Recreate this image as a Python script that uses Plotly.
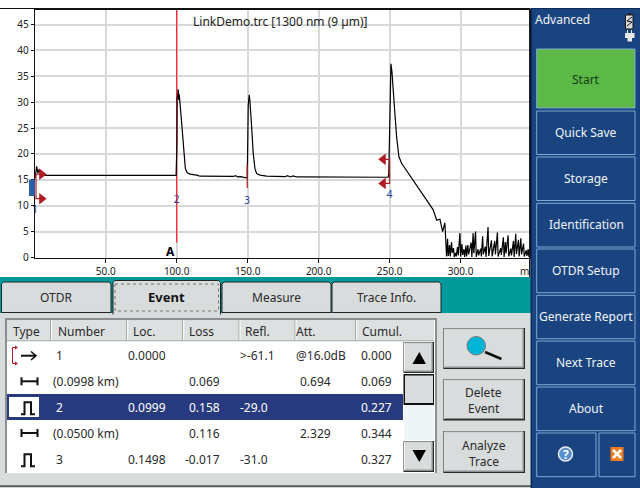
import plotly.graph_objects as go

W = 640
H = 496
FONT = "Noto Sans"

# trace: distance (m), level (dB)
TRACE_X = [0.2, 1.4, 2.2, 3.0, 4.0, 5.0, 99.6, 100.2, 100.3, 100.6, 101.1, 101.5, 101.8, 103.5, 105.1, 106.1,
           107.3, 109.4, 114.1, 116.4, 139.9, 141.5, 143.0, 145.0, 149.7, 149.8, 150.4, 151.1, 151.6, 152.8,
           153.9, 155.1, 156.3, 158.7, 163.4, 176.4, 178.0, 180.0, 182.0, 184.6, 249.0, 249.4, 250.0, 250.9,
           251.6, 252.6, 253.7, 254.9, 256.5, 258.4, 263.1, 267.8, 272.5, 277.2, 280.7, 283.1, 285.4, 287.3,
           288.9, 290.1]
TRACE_Y = [15.3, 17.6, 16.3, 17.0, 16.2, 15.85, 15.85, 22.4, 30.9, 30.9, 32.5, 30.4, 31.5, 26.0, 19.5, 17.2,
           16.4, 16.1, 15.9, 15.7, 15.65, 15.8, 15.55, 15.6, 15.35, 20.5, 29.4, 31.4, 30.1, 25.2,
           20.1, 17.2, 16.2, 15.9, 15.7, 15.6, 15.8, 15.55, 15.75, 15.55, 15.5, 16.25, 25.6, 37.4,
           35.9, 31.0, 27.8, 23.3, 19.5, 18.2, 16.25, 14.3, 12.4, 10.5, 9.2, 7.2, 7.4, 5.0,
           6.7, 0.2]
NOISE_X = [290.8, 291.3, 292.2, 292.7, 293.6, 294.1, 295.0, 295.5, 296.4, 296.9, 297.8, 298.3, 299.5, 300.0, 300.9,
           301.4, 302.3, 302.8, 303.7, 304.2, 305.1, 305.6, 307.4, 307.9, 308.8, 309.3, 310.5, 311.0, 312.2, 312.7,
           314.1, 314.6, 315.5, 316.0, 317.4, 317.9, 319.3, 319.8, 321.7, 322.2, 324.0, 324.5, 325.9, 326.4, 328.2,
           328.7, 330.1, 330.6, 331.5, 332.0, 333.4, 333.9, 335.3, 335.8, 337.2, 337.7, 338.8, 339.3, 340.7, 341.2,
           342.4, 342.9, 344.3, 344.8, 346.2, 346.7, 347.6, 348.1]
NOISE_Y = [3.6, 0.3, 2.4, 0.2, 3.0, 0.9, 1.8, 0.1, 0.9, 0.2, 2.0, 0.4, 4.7, 0.2, 2.6,
           0.5, 1.6, 0.1, 2.3, 0.2, 2.4, 0.6, 2.9, 0.1, 4.7, 0.8, 5.0, 0.1, 1.6, 0.4,
           1.7, 0.2, 4.1, 0.6, 2.1, 0.1, 5.9, 0.3, 3.3, 0.2, 3.2, 0.6, 4.8, 0.2, 1.8,
           0.5, 3.9, 0.1, 3.0, 0.8, 4.3, 0.2, 1.7, 0.4, 3.2, 0.1, 4.6, 0.7, 3.4, 0.2,
           3.7, 0.6, 2.7, 0.2, 1.4, 0.3, 1.6, 0.1]

X_TICKS = [50, 100, 150, 200, 250, 300]
X_LABELS = ["50.0", "100.0", "150.0", "200.0", "250.0", "300.0"]
Y_TICKS = [0, 5, 10, 15, 20, 25, 30, 35, 40, 45]

MARKER_R_X = [4.9, 4.9]
MARKER_R_Y = [16.1, 11.35]
MARKER_L_X = [245.5, 245.5]
MARKER_L_Y = [18.95, 14.3]
EVENT_X = [0.3, 100.0, 149.6, 250.0]
EVENT_Y = [9.0, 11.1, 10.8, 11.9]
EVENT_NAMES = ["1", "2", "3", "4"]

TITLE = "LinkDemo.trc [1300 nm (9 µm)]"

TABS = ["OTDR", "Event", "Measure", "Trace Info."]
HEADERS = ["Type", "Number", "Loc.", "Loss", "Refl.", "Att.", "Cumul."]
COL_NUMBER = ["1", "(0.0998 km)", "2", "(0.0500 km)", "3"]
COL_LOC = ["0.0000", "", "0.0999", "", "0.1498"]
COL_LOSS = ["", "0.069", "0.158", "0.116", "-0.017"]
COL_REFL = [">-61.1", "", "-29.0", "", "-31.0"]
COL_ATT = ["@16.0dB", "0.694", "", "2.329", ""]
COL_CUMUL = ["0.000", "0.069", "0.227", "0.344", "0.327"]
SIDE_BUTTONS = ["Quick Save", "Storage", "Identification", "OTDR Setup", "Generate Report", "Next Trace", "About"]

RED = "#b01c24"
GRID = "#d5d9d9"
PANEL = "#1a4480"
GREY = "#d8dcdc"
NAVY = "#273a80"


def px(x):
    return x / W


def py(y):
    return 1 - y / H


shapes = []
notes = []


def rect(x0, y0, x1, y1, fill, line=None, width=1, dash=None):
    shapes.append(dict(type="rect", xref="paper", yref="paper", x0=px(x0), x1=px(x1), y0=py(y0), y1=py(y1),
                       fillcolor=fill, line=dict(color=line or "rgba(0,0,0,0)", width=width if line else 0, dash=dash),
                       layer="above"))


def seg(x0, y0, x1, y1, color, width=1):
    shapes.append(dict(type="line", xref="paper", yref="paper", x0=px(x0), x1=px(x1), y0=py(y0), y1=py(y1),
                       line=dict(color=color, width=width), layer="above"))


def poly(points, fill=None, line=None, width=1, close=False):
    d = "M" + " L".join(f"{px(a):.5f},{py(b):.5f}" for a, b in points) + (" Z" if close else "")
    shapes.append(dict(type="path", xref="paper", yref="paper", path=d, fillcolor=fill or "rgba(0,0,0,0)",
                       line=dict(color=line or "rgba(0,0,0,0)", width=width if line else 0), layer="above"))


def text(x, y, s, size=12, color="#2a2a2a", anchor="left", bold=False):
    notes.append(dict(xref="paper", yref="paper", x=px(x), y=py(y), text=f"<b>{s}</b>" if bold else s, showarrow=False,
                      xanchor=anchor, yanchor="middle", borderpad=0, borderwidth=0,
                      font=dict(family=FONT, size=size, color=color)))


def raised(x0, y0, x1, y1):
    rect(x0, y0, x1, y1, "#2a2a2a")
    rect(x0 + 0.5, y0 + 0.5, x1 - 1.5, y1 - 1.5, "#f4f6f6")
    rect(x0 + 1.5, y0 + 1.5, x1 - 1.5, y1 - 1.5, "#8d9191")
    rect(x0 + 1.5, y0 + 1.5, x1 - 2.5, y1 - 2.5, GREY)


# frame above the plot
seg(0, 8.5, 530, 8.5, "#111111", 1)
seg(529.8, 8.5, 529.8, 277, "#111111", 1.5)
rect(29, 179.5, 35, 196, "#2a5fa8")

# teal band, tabs and the grey body
rect(0, 277, 531, 314, "#009a9a")
rect(0, 313, 531, 486, GREY)
seg(0, 486.3, 531, 486.3, "#555a5a", 2)
TAB_X = [(1.5, 111), (113, 220.5), (222, 331), (332, 441)]
for i, (x0, x1) in enumerate(TAB_X):
    top = 280.5 if i == 1 else 282
    bottom = 314.5 if i == 1 else 312.5
    poly([(x0, bottom), (x0, top + 2), (x0 + 2, top), (x1 - 2, top), (x1, top + 2), (x1, bottom)],
         fill=GREY, line="#222222", width=1, close=i != 1)
    text((x0 + x1) / 2, 297, TABS[i], size=13 if i == 1 else 12, color="#111111" if i == 1 else "#2a2a2a",
         anchor="center", bold=i == 1)
rect(115, 284, 218.5, 311, "rgba(0,0,0,0)", "#777777", 1, "dot")

# event table
rect(5, 318, 437, 473, "#8a8e8e")
rect(7, 320, 435, 473, "#ffffff")
rect(7, 320, 434, 341, "#dde0e0")
HEADER_X = [13, 57.5, 133, 189, 245, 296, 362]
for hx, name in zip(HEADER_X, HEADERS):
    text(hx, 331.5, name, size=12)
for sx in [50.7, 126.7, 182.7, 239, 295, 355.7]:
    seg(sx, 320, sx, 341, "#9a9e9e", 1)
    seg(sx + 1, 320, sx + 1, 341, "#ffffff", 1)
seg(7, 340.8, 434, 340.8, "#a8acac", 1)

rect(7, 394, 403, 420, NAVY)
rect(9, 397, 39, 417, "#ffffff")

ROW_Y = [355.7, 381.7, 407.3, 433.3, 459.3]
for i, ry in enumerate(ROW_Y):
    color = "#ffffff" if i == 2 else "#2a2a2a"
    num_x = 52.5 if COL_NUMBER[i].startswith("(") else 56
    text(num_x, ry, COL_NUMBER[i], color=color)
    if COL_LOC[i]:
        text(128, ry, COL_LOC[i], color=color)
    if COL_LOSS[i]:
        text(219.5, ry, COL_LOSS[i], color=color, anchor="right")
    if COL_REFL[i]:
        text(240, ry, COL_REFL[i], color=color)
    if COL_ATT[i]:
        text(331 if COL_ATT[i] != "@16.0dB" else 346, ry, COL_ATT[i], color=color, anchor="right")
    text(392, ry, COL_CUMUL[i], color=color, anchor="right")

# type icons
poly([(16.7, 347.5), (12.5, 347.5), (12.5, 363.5), (16.7, 363.5)], line=RED, width=1)
poly([(15, 345.5), (18, 347.5), (15, 349.5)], fill=RED, close=True)
poly([(15, 361.5), (18, 363.5), (15, 365.5)], fill=RED, close=True)
seg(21, 355.7, 35, 355.7, "#111111", 2)
poly([(31, 351.5), (36, 355.7), (31, 360)], line="#111111", width=1.6)
for ry in [381.3, 433]:
    seg(21.5, ry, 37.5, ry, "#111111", 2)
    seg(21.5, ry - 4, 21.5, ry + 4, "#111111", 2)
    seg(37.5, ry - 4, 37.5, ry + 4, "#111111", 2)
for base in [414.3, 466.3]:
    poly([(21, base), (24.5, base), (24.5, base - 12), (31, base - 12), (31, base), (35, base)],
         line="#111111", width=2)

# scroll bar
raised(403.5, 342, 434, 373)
poly([(412.5, 364), (419.3, 352), (426, 364)], fill="#000000", close=True)
rect(403.5, 374, 434, 405, "#111111")
rect(405, 375.5, 433, 403, GREY)
rect(404, 405, 434, 440, "#eef5f7")
raised(403.5, 441, 434, 472)
poly([(412.5, 450), (426, 450), (419.3, 462)], fill="#000000", close=True)

# right hand buttons of the body
raised(443.3, 328, 525, 369)
shapes.append(dict(type="circle", xref="paper", yref="paper", x0=px(467), x1=px(485.5), y0=py(336.5), y1=py(355),
                   fillcolor="#00b4d8", line=dict(color="#777777", width=1), layer="above"))
seg(485, 352, 501.5, 359, "#111111", 2.5)
raised(443.3, 379, 525, 420.5)
text(483.7, 392.5, "Delete", anchor="center")
text(483.7, 408.5, "Event", anchor="center")
raised(443.3, 431, 525, 473)
text(483.7, 445, "Analyze", anchor="center")
text(483.7, 461, "Trace", anchor="center")

# side panel
rect(531, 8, 640, 488, PANEL)
seg(531.3, 8, 531.3, 488, "#0d2a55", 1.5)
seg(531, 8.5, 640, 8.5, "#0d2a55", 1)
text(535, 19.5, "Advanced", color="#f0f4f8")
rect(536.7, 49, 635, 108, "#5cb947", "#7fa8d4", 1)
text(586, 79.5, "Start", color="#14401a", anchor="center")
BUTTON_Y = [(111, 154.5), (157, 200.5), (203.3, 247), (249, 292.7), (295.3, 338.7), (341, 384.7), (387, 430.7)]
for (y0, y1), name in zip(BUTTON_Y, SIDE_BUTTONS):
    rect(536.7, y0, 635, y1, "rgba(0,0,0,0)", "#7fa8d4", 1)
    text(586, (y0 + y1) / 2 - 0.5, name, color="#f0f4f8", anchor="center")
rect(536.7, 433, 596, 476.7, "rgba(0,0,0,0)", "#7fa8d4", 1)
rect(599, 433, 635, 476.7, "rgba(0,0,0,0)", "#7fa8d4", 1)
shapes.append(dict(type="circle", xref="paper", yref="paper", x0=px(558.5), x1=px(572.5), y0=py(447), y1=py(461),
                   fillcolor="#5a8fd0", line=dict(color="#e8eef6", width=1.5), layer="above"))
text(565.5, 454, "?", color="#ffffff", anchor="center", bold=True)
rect(610.5, 447, 623.5, 461, "#ee7d22")
seg(613, 450, 621, 458, "#ffffff", 2.5)
seg(621, 450, 613, 458, "#ffffff", 2.5)
# battery and plug
rect(625.5, 15, 633, 29, "#d8dcdc", "#111111", 1)
rect(628, 13, 631, 15, "#222222")
poly([(627, 26), (632, 22), (627, 21), (632, 17)], line="#111111", width=1)
seg(627.5, 30, 627.5, 33, "#e8e8e8", 1)
seg(631.5, 30, 631.5, 33, "#e8e8e8", 1)
rect(625, 33, 634.5, 38, "#e8e8e8")
rect(627.5, 38, 632, 41.5, "#e8e8e8")

# text on the trace area
text(193, 22, TITLE, size=12, color="#222222")
text(524.5, 271, "m", size=10, color="#222222", anchor="center")
text(170.7, 251.8, "A", size=12, color="#000000", anchor="center", bold=True)

fig = go.Figure()
# cursor A
fig.add_trace(go.Scatter(x=[100, 100], y=[2.9, 47.8], mode="lines", line=dict(color="#ff1a2e", width=1.2)))
fig.add_trace(go.Scatter(x=TRACE_X + NOISE_X, y=TRACE_Y + NOISE_Y, mode="lines",
                         line=dict(color="#000000", width=1.2)))
# event brackets
fig.add_trace(go.Scatter(x=[4.9, 0.9, 0.9, 4.9], y=[16.1, 16.1, 11.35, 11.35], mode="lines",
                         line=dict(color=RED, width=1.2)))
fig.add_trace(go.Scatter(x=[245.5, 250, 250, 245.5], y=[18.95, 18.95, 14.3, 14.3], mode="lines",
                         line=dict(color=RED, width=1.2)))
fig.add_trace(go.Scatter(x=[149.7, 149.7], y=[13.4, 17.9], mode="lines", line=dict(color=RED, width=1.2)))
fig.add_trace(go.Scatter(x=MARKER_R_X, y=MARKER_R_Y, mode="markers",
                         marker=dict(symbol="triangle-right", size=10, color=RED)))
fig.add_trace(go.Scatter(x=MARKER_L_X, y=MARKER_L_Y, mode="markers",
                         marker=dict(symbol="triangle-left", size=10, color=RED)))
fig.add_trace(go.Scatter(x=EVENT_X, y=EVENT_Y, mode="text", text=EVENT_NAMES, cliponaxis=False,
                         textfont=dict(family=FONT, size=10, color="#2b3b93")))

fig.update_layout(width=W, height=H, margin=dict(l=0, r=0, t=0, b=0), showlegend=False, hovermode=False,
                  paper_bgcolor="#ffffff", plot_bgcolor="#ffffff", shapes=shapes, annotations=notes,
                  font=dict(family=FONT, size=10, color="#222222"),
                  xaxis=dict(domain=[px(34.7), px(529.5)], range=[0, 348.5], tickvals=X_TICKS, ticktext=X_LABELS,
                             automargin=False, showgrid=True, gridcolor=GRID, gridwidth=1.5, zeroline=False,
                             ticks="outside", ticklen=4, tickcolor="#111111", showline=True, linecolor="#111111",
                             linewidth=1, mirror=True, tickfont=dict(size=10)),
                  yaxis=dict(domain=[py(258), py(10)], range=[-0.1, 47.8], tickvals=Y_TICKS,
                             automargin=False, showgrid=True, gridcolor=GRID, gridwidth=1.5, zeroline=False,
                             ticks="outside", ticklen=3, tickcolor="#111111", showline=True, linecolor="#111111",
                             linewidth=1, mirror=True, tickfont=dict(size=10)))

fig.write_html("out.html", config={"displayModeBar": False},
               post_script="document.body.style.margin='0';document.body.style.overflow='hidden';")
